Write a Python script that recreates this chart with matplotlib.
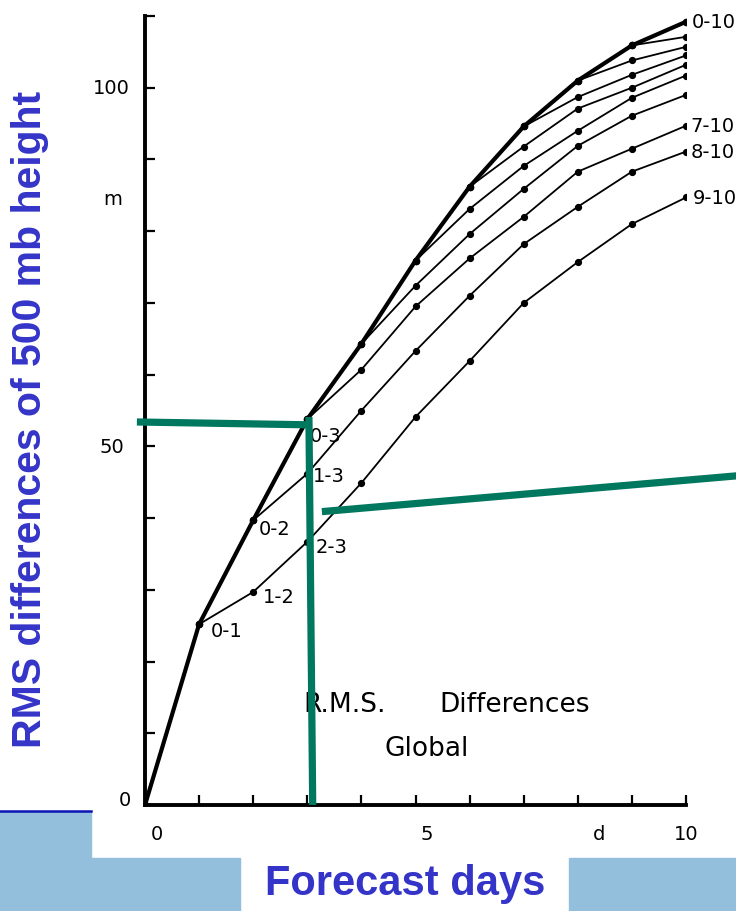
import matplotlib
matplotlib.use('Agg')
import matplotlib.pyplot as plt
import matplotlib.patches as mpatches

# --- data (RMS differences, m) ---
days = list(range(11))
# thick curve: 0-k differences
base_curve = [0, 25.2, 39.7, 53.8, 64.3, 75.9, 86.2, 94.6, 101.0, 105.9, 109.2]
# thin curves: constant lag L, values from day L to day 10
lag_curves = {
    1: [25.2, 29.7, 36.7, 44.9, 54.1, 61.9, 70.0, 75.7, 81.0, 84.7],
    2: [39.7, 46.2, 55.0, 63.3, 71.0, 78.2, 83.4, 88.3, 91.1],
    3: [53.8, 60.7, 69.5, 76.2, 82.0, 88.3, 91.5, 94.7],
    4: [64.3, 72.4, 79.6, 85.9, 91.9, 96.1, 99.0],
    5: [75.9, 83.1, 89.1, 94.0, 98.6, 101.7],
    6: [86.2, 91.8, 97.1, 100.0, 103.2],
    7: [94.6, 98.7, 101.8, 104.5],
    8: [101.0, 103.8, 105.7],
    9: [105.9, 107.1],
}
# curve labels: text, lag (0 = thick curve), day
curve_labels = [('0-1', 1, 1), ('1-2', 1, 2), ('2-3', 1, 3),
                ('0-2', 2, 2), ('1-3', 2, 3), ('0-3', 0, 3),
                ('0-10', 0, 10), ('7-10', 3, 10), ('8-10', 2, 10), ('9-10', 1, 10)]
label_offsets = {'0-1': (0.22, -0.9), '1-2': (0.18, -0.7), '2-3': (0.16, -0.6),
                 '0-2': (0.1, -1.1), '1-3': (0.1, -0.2), '0-3': (0.05, -2.3),
                 '0-10': (0.1, 0.0), '7-10': (0.08, 0.0), '8-10': (0.08, 0.0),
                 '9-10': (0.12, 0.0)}

y_ticks = list(range(0, 111, 10))
x_ticks = list(range(0, 11))

BLUE = '#3434c8'
GREEN = '#00775f'
SKY = '#93bedc'
FONT = 'DejaVu Sans'

fig = plt.figure(figsize=(7.36, 9.12), dpi=100)
fig.patch.set_facecolor('white')

# slide background pieces (sky texture at the bottom)
for (x0, y0, w, h) in [(0, 0, 91, 99), (91, 0, 149, 53), (569, 0, 167, 53)]:
    fig.patches.append(mpatches.Rectangle((x0 / 736, y0 / 912), w / 736, h / 912,
                                          transform=fig.transFigure, color=SKY, zorder=0))
fig.add_artist(plt.Line2D([0, 91 / 736], [100 / 912, 100 / 912], color='#0a14b4',
                          linewidth=1.8, transform=fig.transFigure))

ax = fig.add_axes([145 / 736, 106 / 912, 541 / 736, 789 / 912])
ax.set_facecolor('none')
ax.set_xlim(0, 10)
ax.set_ylim(0, 110)

for lag, vals in lag_curves.items():
    ax.plot(days[lag:], vals, color='black', linewidth=1.3, marker='o',
            markersize=4.2, zorder=3)
ax.plot(days, base_curve, color='black', linewidth=3.0, marker='o',
        markersize=4.5, zorder=4)

for text, lag, day in curve_labels:
    val = base_curve[day] if lag == 0 else lag_curves[lag][day - lag]
    dx, dy = label_offsets[text]
    ax.text(day + dx, val + dy, text, fontsize=14, family=FONT,
            ha='left', va='center', zorder=5)

# axes styling
for s in ['top', 'right']:
    ax.spines[s].set_visible(False)
for s in ['left', 'bottom']:
    ax.spines[s].set_linewidth(2.8)
ax.set_yticks(y_ticks)
ax.set_xticks(x_ticks)
ax.tick_params(direction='in', length=7, width=1.6, labelleft=False, labelbottom=False)

# tick labels as in the scan
for txt, yv in [('100', 100), ('50', 50), ('0', 0.8)]:
    ax.text(-0.62 if txt != '0' else -0.38, yv, txt, fontsize=14, family=FONT,
            ha='center', va='center')
ax.text(-0.6, 84.5, 'm', fontsize=14, family=FONT, ha='center', va='center')
for txt, xv in [('0', 0.22), ('5', 5.2), ('d', 8.4), ('10', 10.0)]:
    ax.text(xv, -4.0, txt, fontsize=14, family=FONT, ha='center', va='center',
            clip_on=False)

ax.text(2.92, 14.1, 'R.M.S.', fontsize=19, family=FONT, ha='left', va='center')
ax.text(5.45, 14.1, 'Differences', fontsize=19, family=FONT, ha='left', va='center')
ax.text(4.43, 8.0, 'Global', fontsize=19, family=FONT, ha='left', va='center')

# green annotation lines
green_lines = [([-0.15, 3.05], [53.4, 53.0]),
               ([3.03, 3.1], [54.1, 0.0]),
               ([3.27, 10.95], [40.9, 45.9])]
for xs, ys in green_lines:
    ax.plot(xs, ys, color=GREEN, linewidth=5.2, solid_capstyle='butt',
            clip_on=False, zorder=6)

# slide labels
fig.text(30 / 736, 1 - 419 / 912, 'RMS differences of 500 mb height', rotation=90,
         color=BLUE, fontsize=29.5, fontweight='bold', family='Liberation Sans',
         ha='center', va='center')
fig.text(405 / 736, 1 - 884 / 912, 'Forecast days', color=BLUE, fontsize=30,
         fontweight='bold', family='Liberation Sans', ha='center', va='center')

plt.savefig('out.png', dpi=100)
plt.close()
